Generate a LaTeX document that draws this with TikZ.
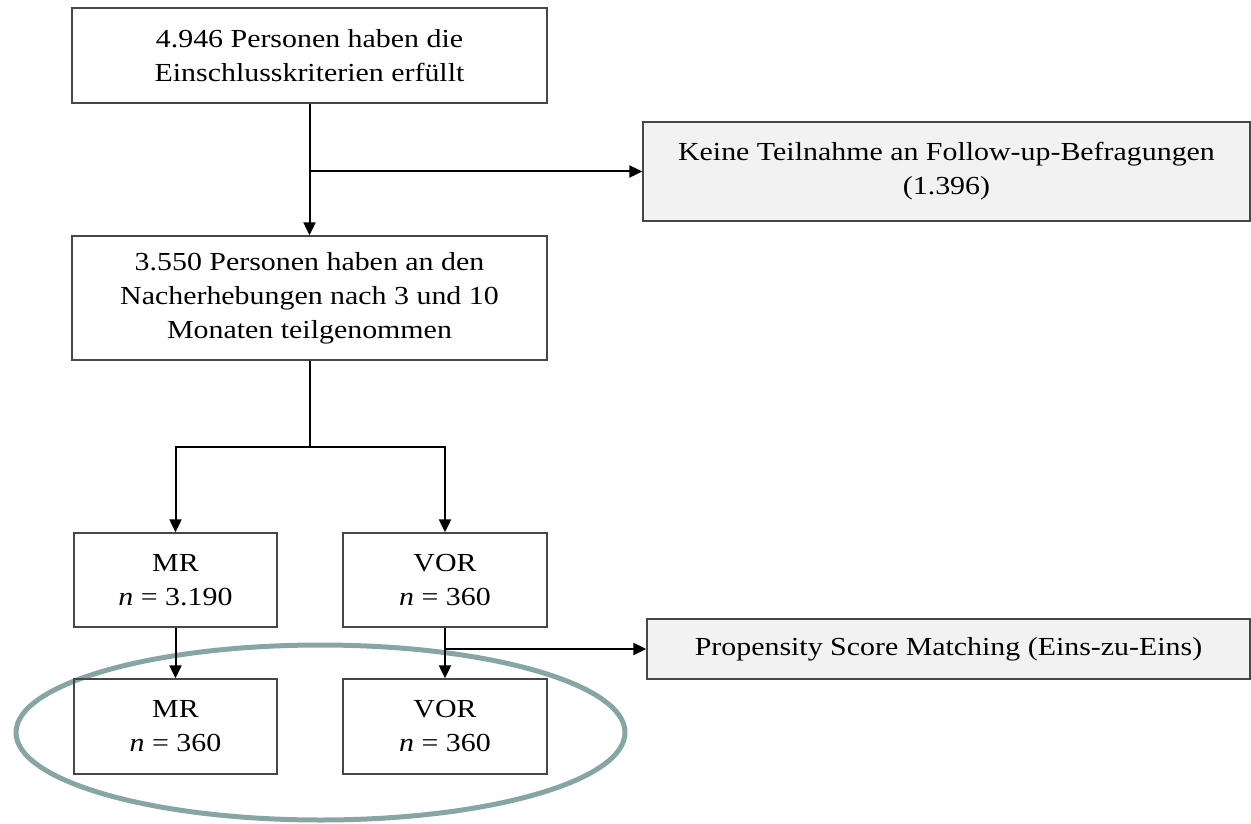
\documentclass[tikz,border=0pt]{standalone}
\usepackage{fontspec}
\setmainfont{Liberation Serif}[FakeStretch=1.15]
\usepackage{tikz}
\usetikzlibrary{arrows.meta,positioning}
\tikzset{
  box/.style={draw=black!72,line width=1.3pt,align=center,inner sep=2pt,
    font=\fontsize{26}{34}\selectfont},
  greybox/.style={box,fill=black!5},
  arrow/.style={-{Triangle[length=13pt,width=12pt]},line width=2pt},
  link/.style={line width=2pt},
  ring/.style={draw={rgb,255:red,136;green,165;blue,165},line width=5pt}
}

\begin{document}
\begin{tikzpicture}[x=1pt,y=-1pt]
\useasboundingbox (0,0) rectangle (1251,824);
\draw[ring] (320.5,732.5) ellipse [x radius=304.5, y radius=87.5];
\node[box,minimum width=475pt,minimum height=95pt] (incl) at (309.5,55.5) {4.946 Personen haben die\\Einschlusskriterien erfüllt};
\node[greybox,minimum width=607pt,minimum height=99pt] (excl) at (946.5,171.5) {Keine Teilnahme an Follow-up-Befragungen\\(1.396)};
\node[box,minimum width=475pt,minimum height=124pt] (part) at (309.5,298) {3.550 Personen haben an den\\Nacherhebungen nach 3 und 10\\Monaten teilgenommen};
\node[box,minimum width=203pt,minimum height=94pt] (mr) at (175.5,580) {MR\\\textit{n} = 3.190};
\node[box,minimum width=204pt,minimum height=94pt] (vor) at (445,580) {VOR\\\textit{n} = 360};
\node[box,minimum width=203pt,minimum height=95pt] (mrm) at (175.5,726.5) {MR\\\textit{n} = 360};
\node[box,minimum width=204pt,minimum height=95pt] (vorm) at (445,726.5) {VOR\\\textit{n} = 360};
\node[greybox,minimum width=603pt,minimum height=60pt] (psm) at (948.5,649) {Propensity Score Matching (Eins-zu-Eins)};
\coordinate (fork) at (incl.south |- excl.west);
\coordinate (split) at (309.5,447);
\coordinate (match) at (vor.south |- psm.west);
% Ausschluss und Teilnahme
\draw[arrow] (incl.south) -- (part.north);
\draw[arrow] (fork) -- (excl.west);
% Aufteilung nach Gruppe
\draw[link] (part.south) -- (split);
\draw[arrow] (split) -| (mr.north);
\draw[arrow] (split) -| (vor.north);
\draw[arrow] (mr.south) -- (mrm.north);
\draw[arrow] (vor.south) -- (vorm.north);
\draw[arrow] (match) -- (psm.west);
\end{tikzpicture}
\end{document}
